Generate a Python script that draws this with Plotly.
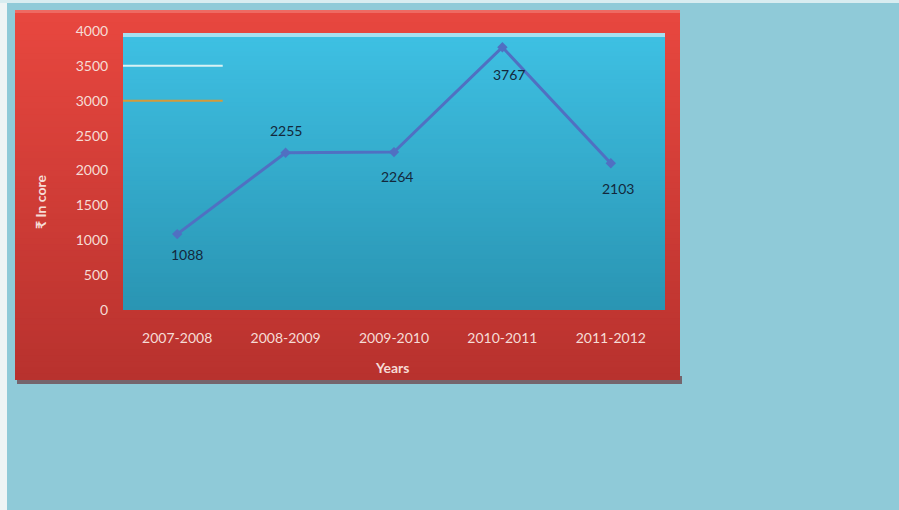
import plotly.graph_objects as go

# Data
years = ["2007-2008", "2008-2009", "2009-2010", "2010-2011", "2011-2012"]
amounts = [1088, 2255, 2264, 3767, 2103]
y_ticks = [0, 500, 1000, 1500, 2000, 2500, 3000, 3500, 4000]

# Label offsets (pixels) for the value annotations
label_dx = [10, 0, 3, 7, 7]
label_dy = [-20, 22, -24, -27, -25]

W, H = 899, 510


def px_x(v):
    return v / W


def px_y(v):
    return 1 - v / H


def lerp_color(c1, c2, t):
    a = [int(c1[i:i + 2], 16) for i in (1, 3, 5)]
    b = [int(c2[i:i + 2], 16) for i in (1, 3, 5)]
    return "#" + "".join(f"{round(a[k] + (b[k] - a[k]) * t):02x}" for k in range(3))


shapes = []


def gradient_rect(x0, y0, x1, y1, top, bottom, n=40):
    # stacked bands, each overlapping the next to avoid seams
    step = (y1 - y0) / n
    for i in range(n):
        t = i / (n - 1)
        ya = y0 + step * i
        yb = ya + step * (1.6 if i < n - 1 else 1.0)
        shapes.append(dict(type="rect", xref="paper", yref="paper", layer="below",
                           x0=x0, x1=x1, y0=ya, y1=yb,
                           fillcolor=lerp_color(top, bottom, t),
                           line=dict(width=0)))


# Page edges
shapes.append(dict(type="rect", xref="paper", yref="paper", layer="below",
                   x0=0, x1=px_x(7), y0=0, y1=1, fillcolor="#eef4f5", line_width=0))
shapes.append(dict(type="rect", xref="paper", yref="paper", layer="below",
                   x0=0, x1=1, y0=px_y(3), y1=1, fillcolor="#d8ecf0", line_width=0))

# Drop shadow under the red frame
shapes.append(dict(type="rect", xref="paper", yref="paper", layer="below",
                   x0=px_x(17), x1=px_x(682), y0=px_y(384), y1=px_y(376),
                   fillcolor="#6a3a40", opacity=0.7, line_width=0))

# Red frame (top to bottom gradient)
gradient_rect(px_x(15), px_y(10), px_x(680), px_y(380), "#e8473f", "#b8322e", n=60)
shapes.append(dict(type="rect", xref="paper", yref="paper", layer="below",
                   x0=px_x(15), x1=px_x(680), y0=px_y(13), y1=px_y(10),
                   fillcolor="#ee6a62", line_width=0))

# Plot area (blue gradient)
gradient_rect(px_x(123), px_y(33), px_x(665), px_y(310), "#3ec0e3", "#2a95b3", n=60)
shapes.append(dict(type="rect", xref="paper", yref="paper", layer="below",
                   x0=px_x(123), x1=px_x(665), y0=px_y(37), y1=px_y(33),
                   fillcolor="#a6e0f0", line_width=0))

# Short reference strokes at 3500 and 3000
shapes.append(dict(type="line", xref="x", yref="y", layer="above",
                   x0=-0.5, x1=0.42, y0=3500, y1=3500,
                   line=dict(color="#d9f2f4", width=2)))
shapes.append(dict(type="line", xref="x", yref="y", layer="above",
                   x0=-0.5, x1=0.42, y0=3000, y1=3000,
                   line=dict(color="#d49a3a", width=2)))

fig = go.Figure()
fig.add_trace(go.Scatter(
    x=years, y=amounts, mode="lines+markers",
    line=dict(color="#5070c2", width=3),
    marker=dict(symbol="diamond", size=8, color="#5070c2"),
    hoverinfo="x+y", showlegend=False,
))

annotations = []
for yr, v, dx, dy in zip(years, amounts, label_dx, label_dy):
    annotations.append(dict(x=yr, y=v, xref="x", yref="y", text=str(v),
                            showarrow=False, xshift=dx, yshift=dy,
                            font=dict(family="Lato", size=14, color="#13283c")))

annotations.append(dict(x=px_x(392), y=px_y(367), xref="paper", yref="paper",
                        xanchor="center", yanchor="middle",
                        text="<b>Years</b>", showarrow=False,
                        font=dict(family="Lato", size=14, color="#f6dcd6")))
annotations.append(dict(x=px_x(41), y=px_y(202), xref="paper", yref="paper",
                        xanchor="center", yanchor="middle",
                        text="<b>₹ In core</b>", showarrow=False, textangle=-90,
                        font=dict(family="Lato", size=14, color="#f6dcd6")))

fig.update_layout(
    width=W, height=H,
    margin=dict(l=0, r=0, t=0, b=0, pad=0),
    paper_bgcolor="#8fcad8",
    plot_bgcolor="rgba(0,0,0,0)",
    shapes=shapes,
    annotations=annotations,
    xaxis=dict(domain=[px_x(123), px_x(665)], range=[-0.5, 4.5],
               automargin=False,
               showgrid=False, zeroline=False, showline=False,
               ticks="outside", ticklen=15, tickcolor="rgba(0,0,0,0)",
               tickfont=dict(family="Lato", size=14, color="#f6dcd6"),
               fixedrange=True),
    yaxis=dict(domain=[1 - 310 / H, 1 - 31 / H], range=[0, 4000],
               automargin=False,
               tickvals=y_ticks, showgrid=False, zeroline=False, showline=False,
               ticks="outside", ticklen=11, tickcolor="rgba(0,0,0,0)",
               tickfont=dict(family="Lato", size=14, color="#f6dcd6"),
               fixedrange=True),
)

fig.write_html("out.html")
